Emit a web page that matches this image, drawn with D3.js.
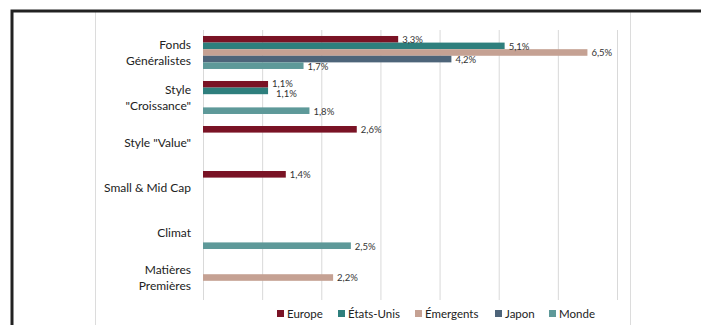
<!DOCTYPE html>
<html>
<head>
<meta charset="utf-8">
<script src="https://cdn.jsdelivr.net/npm/d3@7"></script>
<style>
  html, body { margin: 0; padding: 0; background: #fff; }
  svg { display: block; font-family: Lato, "Open Sans", "Noto Sans", sans-serif; }
</style>
</head>
<body>
<svg id="chart" width="701" height="325"></svg>
<script>
// Fund categories (two-line labels split on "\n")
const categories = [
  "Fonds\nGénéralistes",
  "Style\n\"Croissance\"",
  "Style \"Value\"",
  "Small & Mid Cap",
  "Climat",
  "Matières\nPremières"
];
const seriesNames = ["Europe", "États-Unis", "Émergents", "Japon", "Monde"];
const seriesColors = ["#7a1325", "#2e7f7d", "#c5a193", "#4d6479", "#5e9999"];

// Values in %, null where a series has no bar
const europe     = [3.3, 1.1, 2.6, 1.4, null, null];
const etatsUnis  = [5.1, 1.1, null, null, null, null];
const emergents  = [6.5, null, null, null, null, 2.2];
const japon      = [4.2, null, null, null, null, null];
const monde      = [1.7, 1.8, null, null, 2.5, null];
const seriesValues = [europe, etatsUnis, emergents, japon, monde];
const xTicks = [0, 1, 2, 3, 4, 5, 6, 7];

const svg = d3.select("#chart");

// Light chart-area edges
svg.append("line").attr("x1", 95.5).attr("x2", 95.5).attr("y1", 12).attr("y2", 325)
  .attr("stroke", "#dcdcdc").attr("stroke-width", 1);
svg.append("line").attr("x1", 630.5).attr("x2", 630.5).attr("y1", 12).attr("y2", 325)
  .attr("stroke", "#dcdcdc").attr("stroke-width", 1);

const x = d3.scaleLinear().domain([0, 7]).range([203, 617]);
const y = d3.scaleBand().domain(categories).range([30, 300])
  .paddingInner(0.267).paddingOuter(0.133);
const ySub = d3.scaleBand().domain(seriesNames).range([0, y.bandwidth()]);

// Vertical gridlines
svg.append("g")
  .attr("transform", "translate(0,300)")
  .call(d3.axisBottom(x).tickValues(xTicks).tickSize(-270).tickFormat(""))
  .call(g => g.select(".domain").remove())
  .call(g => g.selectAll(".tick line").attr("stroke", "#d9d9d9").attr("stroke-width", 1));

// Bars
const fmt = v => d3.format(".1f")(v).replace(".", ",") + "%";
const rows = [];
seriesNames.forEach((s, si) => {
  seriesValues[si].forEach((v, ci) => {
    if (v != null) rows.push({ s, si, ci, cat: categories[ci], v });
  });
});
rows.sort((a, b) => a.ci - b.ci || a.si - b.si);

const bars = svg.append("g");
bars.selectAll("rect").data(rows).join("rect")
  .attr("x", x(0))
  .attr("y", d => y(d.cat) + ySub(d.s))
  .attr("width", d => x(d.v) - x(0))
  .attr("height", ySub.bandwidth())
  .attr("fill", d => seriesColors[d.si]);

// Value labels; when two labels of neighbouring bars collide they are spread apart
rows.forEach((d, i) => {
  d.lx = x(d.v) + 4;
  d.ly = y(d.cat) + ySub(d.s) + ySub.bandwidth() / 2 + 0.5;
  const p = rows[i - 1];
  if (p && p.ci === d.ci && Math.abs(p.ly - d.ly) < 9 && Math.abs(p.lx - d.lx) < 20) {
    p.ly -= 1.5;
    d.ly += 2;
    d.lx = p.lx + 4;
  }
});
svg.append("g").selectAll("text").data(rows).join("text")
  .attr("x", d => d.lx)
  .attr("y", d => d.ly)
  .attr("dy", "0.35em")
  .attr("font-size", 9.5)
  .attr("fill", "#333")
  .text(d => fmt(d.v));

// Category labels
const catG = svg.append("g");
categories.forEach(c => {
  const lines = c.split("\n");
  const cy = y(c) + y.bandwidth() / 2;
  const lh = 16;
  const t = catG.append("text")
    .attr("text-anchor", "end")
    .attr("font-size", 12)
    .attr("fill", "#222");
  lines.forEach((ln, i) => {
    t.append("tspan")
      .attr("x", 191)
      .attr("y", cy + (i - (lines.length - 1) / 2) * lh)
      .attr("dy", "0.35em")
      .text(ln);
  });
});

// Legend
const legendX = [277, 338, 415, 495, 549];
const legend = svg.append("g");
seriesNames.forEach((s, i) => {
  legend.append("rect").attr("x", legendX[i]).attr("y", 310).attr("width", 7).attr("height", 7)
    .attr("fill", seriesColors[i]);
  legend.append("text").attr("x", legendX[i] + 10).attr("y", 313.5).attr("dy", "0.35em")
    .attr("font-size", 11.5).attr("fill", "#222").text(s);
});

// Outer frame
svg.append("rect").attr("x", 12).attr("y", 11).attr("width", 700).attr("height", 330)
  .attr("fill", "none").attr("stroke", "#222").attr("stroke-width", 3);
</script>
</body>
</html>
